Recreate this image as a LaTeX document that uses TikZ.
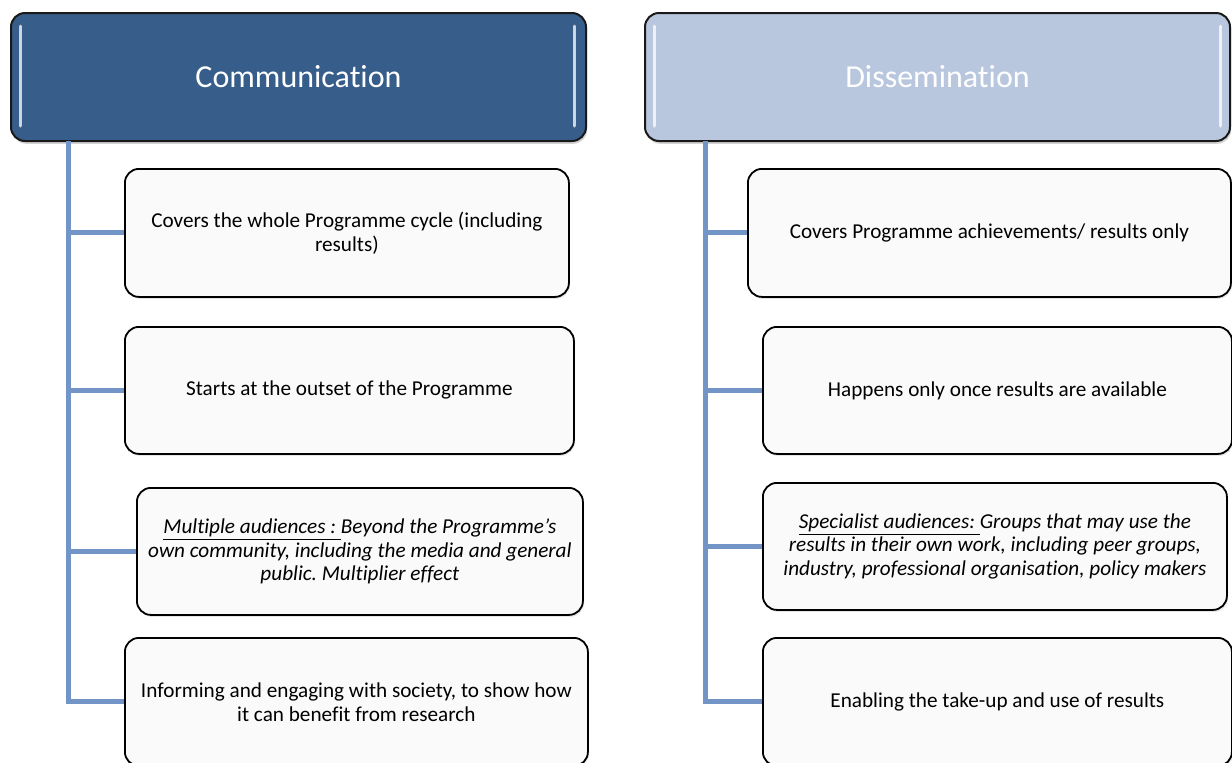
\documentclass[tikz,border=0pt]{standalone}
\usepackage{fontspec}
\setmainfont{Carlito}[Ligatures={NoCommon,NoContextual}]
\usepackage{tikz}
\usetikzlibrary{shadows}
\definecolor{commblue}{RGB}{55,93,138}
\definecolor{dissblue}{RGB}{185,199,222}
\definecolor{linkblue}{RGB}{114,148,199}
\definecolor{boxfill}{RGB}{250,250,250}
\frenchspacing
\begin{document}
\begin{tikzpicture}[
  x=0.5pt, y=-0.5pt,
  head/.style={rectangle,rounded corners=7pt,draw=black!90,line width=1pt,anchor=north west,minimum height=64pt,text=white,font=\fontsize{16}{19}\selectfont,drop shadow={opacity=0.35,shadow xshift=0.6pt,shadow yshift=-1.4pt}},
  item/.style={rectangle,rounded corners=7pt,draw=black,line width=0.9pt,fill=boxfill,anchor=north west,align=center,font=\fontsize{10.6}{11.9}\selectfont,drop shadow={opacity=0.2,shadow xshift=0.6pt,shadow yshift=-1pt}},
  link/.style={draw=linkblue,line width=2.5pt},
  gloss/.style={draw=white,line width=1.5pt,line cap=round,opacity=0.75},
]
\useasboundingbox (0,0) rectangle (1232,762);

\node [head,fill=commblue,minimum width=287.5pt] (chead) at (10,12) {Communication};
\node [head,fill=dissblue,minimum width=292.5pt] (dhead) at (644,12) {Dissemination};
\draw [gloss] (20,26) -- (20,126);
\draw [gloss] (574,26) -- (574,126);
\draw [gloss] (654,26) -- (654,126);
\draw [gloss] (1220,26) -- (1220,126);

\node [item,minimum width=222pt,minimum height=64pt] (c1) at (124,168)
  {Covers the whole Programme cycle (including\\results)};
\node [item,minimum width=224.5pt,minimum height=63.5pt] (c2) at (124,326)
  {Starts at the outset of the Programme};
\node [item,minimum width=223pt,minimum height=63.5pt] (c3) at (136,487)
  {\itshape\underline{Multiple audiences :\ }Beyond the Programme's\\
   \itshape own community, including the media and general\\
   \itshape public. Multiplier effect};
\node [item,minimum width=231.5pt,minimum height=64pt] (c4) at (124,637)
  {Informing and engaging with society, to show how\\it can benefit from research};

\node [item,minimum width=241.5pt,minimum height=64pt] (d1) at (747,168)
  {Covers Programme achievements/ results only};
\node [item,minimum width=234.5pt,minimum height=63.5pt] (d2) at (762,326)
  {Happens only once results are available};
\node [item,minimum width=232pt,minimum height=63.5pt] (d3) at (762,482)
  {\itshape\underline{Specialist audiences:\ }Groups that may use the\\
   \itshape results in their own work, including peer groups,\\
   \itshape industry, professional organisation, policy makers};
\node [item,minimum width=234.5pt,minimum height=64pt] (d4) at (762,637)
  {Enabling the take-up and use of results};

\coordinate (ctop) at (68,141);
\coordinate (dtop) at (705,141);
\draw [link] (ctop) |- (c4.west);
\draw [link] (dtop) |- (d4.west);
\foreach \b in {c1,c2,c3}
  \draw [link] (ctop |- \b.west) -- (\b.west);
\foreach \b in {d1,d2,d3}
  \draw [link] (dtop |- \b.west) -- (\b.west);
\end{tikzpicture}
\end{document}
